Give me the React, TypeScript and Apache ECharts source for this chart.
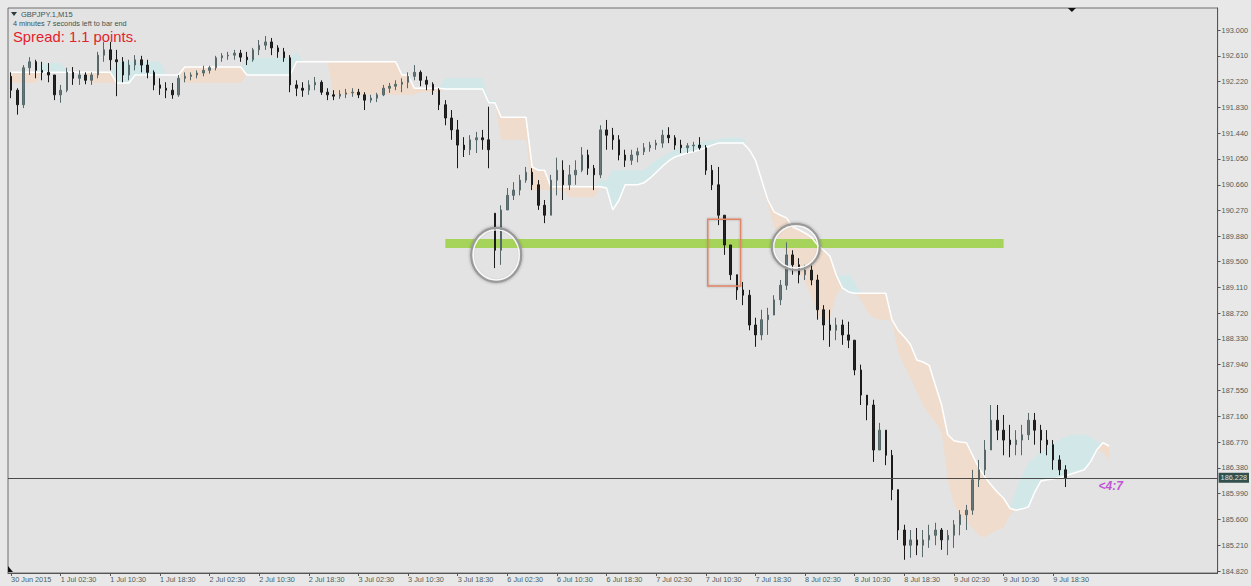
import React, { useEffect, useRef } from 'react';
import * as echarts from 'echarts';

// ---------- data ----------
const X_LABELS = ['30 Jun 2015', '1 Jul 02:30', '1 Jul 10:30', '1 Jul 18:30', '2 Jul 02:30', '2 Jul 10:30', '2 Jul 18:30', '3 Jul 02:30', '3 Jul 10:30', '3 Jul 18:30', '6 Jul 02:30', '6 Jul 10:30', '6 Jul 18:30', '7 Jul 02:30', '7 Jul 10:30', '7 Jul 18:30', '8 Jul 02:30', '8 Jul 10:30', '8 Jul 18:30', '9 Jul 02:30', '9 Jul 10:30', '9 Jul 18:30'];
const BARS_PER_LABEL = 8;
const SLOT_COUNT = 195;

const Y_TICKS = [184.82, 185.21, 185.6, 185.99, 186.38, 186.77, 187.16, 187.55, 187.94, 188.33, 188.72, 189.11, 189.5, 189.88, 190.27, 190.66, 191.05, 191.44, 191.83, 192.22, 192.61, 193.0];
const PRICE_MIN = 184.79;
const PRICE_MAX = 193.333;

const FIRST_OPEN = 192.3;
const HIGH = [
  192.36, 192.12, 192.47, 192.59, 192.55, 192.52, 192.50, 192.32, 192.17, 192.43,
  192.44, 192.39, 192.36, 192.36, 192.67, 192.82, 192.82, 192.70, 192.59, 192.55,
  192.62, 192.61, 192.55, 192.39, 192.27, 192.21, 192.20, 192.32, 192.36, 192.36,
  192.39, 192.46, 192.46, 192.61, 192.65, 192.67, 192.70, 192.70, 192.67, 192.73,
  192.85, 192.91, 192.88, 192.77, 192.73, 192.62, 192.24, 192.21, 192.24, 192.29,
  192.24, 192.12, 192.09, 192.09, 192.11, 192.12, 192.11, 192.06, 192.02, 192.05,
  192.17, 192.20, 192.24, 192.27, 192.36, 192.47, 192.39, 192.30, 192.21, 192.12,
  191.94, 191.79, 191.64, 191.38, 191.41, 191.46, 191.49, 191.84, 190.23, 190.35,
  190.61, 190.70, 190.81, 190.93, 190.91, 190.73, 190.43, 190.81, 191.07, 191.03,
  190.96, 191.03, 191.23, 191.19, 190.96, 191.56, 191.64, 191.52, 191.41, 191.19,
  191.19, 191.22, 191.29, 191.31, 191.34, 191.49, 191.53, 191.41, 191.34, 191.29,
  191.31, 191.38, 191.26, 190.96, 190.93, 190.20, 189.75, 189.30, 189.19, 189.07,
  188.65, 188.77, 188.80, 188.99, 189.22, 189.79, 189.67, 189.55, 189.45, 189.48,
  189.30, 188.84, 188.77, 188.65, 188.62, 188.59, 188.31, 187.94, 187.48, 187.41,
  187.06, 186.95, 186.65, 186.05, 185.52, 185.44, 185.47, 185.44, 185.52, 185.55,
  185.47, 185.44, 185.59, 185.74, 185.82, 186.35, 186.50, 186.80, 187.33, 187.33,
  187.18, 187.03, 186.95, 187.03, 187.21, 187.21, 187.03, 186.95, 186.80, 186.57,
  186.42,
];
const LOW = [
  191.97, 191.72, 191.82, 192.32, 192.27, 192.24, 192.21, 191.94, 191.90, 192.06,
  192.17, 192.17, 192.18, 192.17, 192.27, 192.52, 192.39, 192.00, 192.21, 192.24,
  192.39, 192.36, 192.27, 192.09, 192.02, 191.97, 191.96, 191.99, 192.21, 192.24,
  192.27, 192.30, 192.34, 192.39, 192.52, 192.55, 192.55, 192.52, 192.47, 192.52,
  192.62, 192.70, 192.62, 192.58, 192.52, 192.06, 192.00, 191.99, 192.02, 192.09,
  192.02, 191.94, 191.94, 191.96, 191.97, 191.99, 191.97, 191.79, 191.90, 191.91,
  192.00, 192.05, 192.09, 192.06, 192.12, 192.24, 192.15, 192.09, 192.02, 191.79,
  191.56, 191.34, 190.91, 191.08, 191.11, 191.14, 191.19, 190.91, 189.40, 189.45,
  190.28, 190.43, 190.50, 190.69, 190.58, 190.28, 190.08, 190.20, 190.50, 190.43,
  190.58, 190.66, 190.85, 190.81, 190.58, 190.76, 191.19, 191.19, 191.03, 190.93,
  190.96, 191.00, 191.11, 191.16, 191.19, 191.22, 191.29, 191.19, 191.14, 191.14,
  191.16, 191.19, 190.81, 190.58, 190.05, 189.60, 189.22, 188.92, 188.84, 188.46,
  188.21, 188.31, 188.39, 188.69, 188.84, 189.07, 189.30, 189.17, 189.22, 189.14,
  188.62, 188.31, 188.21, 188.31, 188.24, 188.19, 187.78, 187.33, 187.10, 186.47,
  186.65, 186.42, 185.89, 185.29, 184.99, 185.02, 185.06, 185.03, 185.17, 185.21,
  185.14, 185.06, 185.17, 185.36, 185.44, 185.67, 186.09, 186.27, 186.65, 186.80,
  186.57, 186.54, 186.57, 186.57, 186.80, 186.73, 186.60, 186.57, 186.35, 186.27,
  186.09,
];
const CLOSE = [
  192.09, 191.87, 192.43, 192.52, 192.39, 192.36, 192.32, 192.02, 192.09, 192.36,
  192.27, 192.32, 192.24, 192.32, 192.62, 192.70, 192.55, 192.52, 192.32, 192.47,
  192.55, 192.47, 192.36, 192.17, 192.12, 192.09, 192.02, 192.27, 192.30, 192.32,
  192.35, 192.39, 192.43, 192.58, 192.61, 192.62, 192.65, 192.59, 192.55, 192.70,
  192.77, 192.82, 192.73, 192.67, 192.58, 192.17, 192.12, 192.09, 192.17, 192.21,
  192.06, 192.02, 192.00, 192.03, 192.05, 192.06, 192.02, 191.94, 191.97, 192.02,
  192.12, 192.15, 192.18, 192.21, 192.30, 192.36, 192.24, 192.18, 192.09, 191.87,
  191.67, 191.49, 191.26, 191.19, 191.34, 191.37, 191.34, 191.19, 189.67, 190.28,
  190.50, 190.58, 190.73, 190.85, 190.66, 190.35, 190.20, 190.73, 190.88, 190.66,
  190.81, 190.88, 191.11, 190.91, 190.81, 191.49, 191.41, 191.34, 191.11, 191.03,
  191.11, 191.16, 191.22, 191.26, 191.29, 191.41, 191.37, 191.26, 191.22, 191.25,
  191.26, 191.22, 190.88, 190.66, 190.20, 189.75, 189.30, 189.07, 188.99, 188.54,
  188.39, 188.62, 188.69, 188.92, 189.14, 189.60, 189.45, 189.30, 189.37, 189.22,
  188.77, 188.54, 188.46, 188.54, 188.39, 188.31, 187.86, 187.48, 187.33, 186.65,
  186.95, 186.57, 186.05, 185.44, 185.21, 185.29, 185.21, 185.29, 185.36, 185.44,
  185.29, 185.36, 185.52, 185.67, 185.74, 186.20, 186.35, 186.65, 187.10, 186.95,
  186.80, 186.73, 186.80, 186.88, 187.10, 186.95, 186.80, 186.73, 186.50, 186.35,
  186.23,
];

// Ichimoku senkou spans (already shifted forward)
const SPAN_A = [
  192.20, 192.20, 192.20, 192.20, 192.20, 192.50, 192.50, 192.50, 192.50, 192.36,
  192.36, 192.36, 192.36, 192.20, 192.20, 192.20, 192.20, 192.52, 192.52, 192.52,
  192.52, 192.52, 192.52, 192.52, 192.52, 192.32, 192.32, 192.32, 192.20, 192.20,
  192.20, 192.20, 192.20, 192.20, 192.20, 192.20, 192.20, 192.20, 192.58, 192.58,
  192.58, 192.58, 192.58, 192.58, 192.58, 192.58, 192.67, 192.52, 192.52, 192.52,
  192.52, 192.52, 192.02, 192.02, 192.02, 192.02, 192.02, 192.02, 192.02, 192.02,
  192.02, 192.02, 192.02, 192.02, 192.02, 192.02, 192.06, 192.06, 192.06, 192.06,
  192.27, 192.27, 192.27, 192.27, 192.27, 192.27, 192.27, 191.94, 191.94, 191.34,
  191.34, 191.34, 191.34, 191.34, 190.58, 190.58, 190.58, 190.58, 190.58, 190.58,
  190.47, 190.47, 190.47, 190.47, 190.47, 190.73, 190.73, 190.88, 190.88, 190.88,
  190.88, 190.88, 190.88, 190.96, 191.03, 191.08, 191.14, 191.19, 191.22, 191.25,
  191.26, 191.29, 191.32, 191.34, 191.34, 191.37, 191.37, 191.37, 191.37, 191.19,
  191.00, 190.73, 190.35, 190.04, 189.78, 189.60, 189.45, 189.33, 189.19, 188.99,
  188.69, 188.59, 188.65, 188.99, 189.28, 189.31, 189.19, 188.92, 188.74, 188.65,
  188.62, 188.62, 188.59, 188.12, 187.92, 187.74, 187.53, 187.33, 187.19, 187.07,
  186.92, 186.20, 185.82, 185.67, 185.56, 185.47, 185.36, 185.33, 185.39, 185.44,
  185.47, 185.67, 186.05, 186.27, 186.45, 186.53, 186.62, 186.68, 186.76, 186.80,
  186.85, 186.88, 186.88, 186.88, 186.85, 186.77, 186.62, 186.50,
];
const SPAN_B = [
  192.36, 192.36, 192.36, 192.36, 192.36, 192.36, 192.36, 192.36, 192.36, 192.36,
  192.36, 192.36, 192.36, 192.36, 192.36, 192.36, 192.36, 192.20, 192.20, 192.20,
  192.32, 192.32, 192.32, 192.32, 192.32, 192.32, 192.32, 192.32, 192.44, 192.44,
  192.44, 192.44, 192.44, 192.44, 192.44, 192.44, 192.44, 192.44, 192.32, 192.32,
  192.32, 192.32, 192.32, 192.32, 192.32, 192.32, 192.52, 192.52, 192.52, 192.52,
  192.52, 192.52, 192.52, 192.52, 192.52, 192.52, 192.52, 192.52, 192.52, 192.52,
  192.52, 192.52, 192.52, 192.32, 192.32, 192.12, 192.12, 192.12, 192.12, 192.12,
  192.11, 192.11, 192.11, 192.11, 192.11, 192.11, 192.11, 191.90, 191.90, 191.68,
  191.68, 191.68, 191.68, 191.68, 190.93, 190.88, 190.88, 190.63, 190.63, 190.63,
  190.63, 190.63, 190.63, 190.63, 190.63, 190.63, 190.61, 190.28, 190.43, 190.66,
  190.66, 190.66, 190.69, 190.76, 190.85, 190.94, 191.02, 191.08, 191.11, 191.14,
  191.16, 191.19, 191.22, 191.26, 191.29, 191.29, 191.29, 191.29, 191.29, 191.19,
  191.03, 190.73, 190.43, 190.25, 190.20, 190.16, 190.02, 189.98, 189.93, 189.87,
  189.75, 189.67, 189.58, 189.30, 189.10, 189.04, 189.02, 189.02, 189.02, 189.02,
  189.02, 189.02, 188.62, 188.46, 188.36, 188.24, 188.01, 187.98, 187.93, 187.63,
  187.33, 186.88, 186.79, 186.77, 186.76, 186.57, 186.38, 186.24, 186.12, 186.01,
  185.92, 185.77, 185.74, 185.76, 185.79, 186.01, 186.18, 186.20, 186.21, 186.23,
  186.26, 186.29, 186.32, 186.35, 186.47, 186.65, 186.76, 186.71,
];

const CURRENT_PRICE = 186.228;
const GREEN_LEVEL = 189.78;
const GREEN_FROM = 70;
const GREEN_TO = 160;
const CIRCLE_MARKS = [
  { idx: 78.2, price: 189.6 },
  { idx: 126.5, price: 189.72 },
];
const BOX_MARK = { idx0: 112.3, idx1: 117.6, priceTop: 190.14, priceBottom: 189.13 };
const TIMER_MARK = { idx: 175.3, price: 186.11, text: '<4:7' };
const SHIFT_MARK_IDX = 171;

const SYMBOL_TEXT = 'GBPJPY.1,M15';
const TIMER_TEXT = '4 minutes 7 seconds left to bar end';
const SPREAD_TEXT = 'Spread: 1.1 points.';

// ---------- styles ----------
const FONT = '"Liberation Sans", Arial, sans-serif';
const AXIS_TEXT = '#4a5e5e';
const PEACH = '#efdccd';
const CYAN = '#d1e7e8';
const GREEN = '#a6d45a';

export default function App() {
  const ref = useRef<HTMLDivElement>(null);

  useEffect(() => {
    document.body.style.margin = '0';
    const el = ref.current!;
    const chart = echarts.init(el, null, { renderer: 'svg' });

    const cats = Array.from({ length: SLOT_COUNT }, (_, i) => String(i));
    const candleData = CLOSE.map((c, i) => {
      const prev = i === 0 ? FIRST_OPEN : CLOSE[i - 1];
      const o = Math.min(HIGH[i], Math.max(LOW[i], prev));
      return [o, c, LOW[i], HIGH[i]];
    });
    const cloudLow = SPAN_A.map((a, i) => Math.min(a, SPAN_B[i]));
    const bear = SPAN_A.map((a, i) => Math.max(SPAN_B[i] - a, 0));
    const bull = SPAN_A.map((a, i) => Math.max(a - SPAN_B[i], 0));
    const labelTick = (i: number) => i % BARS_PER_LABEL === 0 && i / BARS_PER_LABEL < X_LABELS.length;

    chart.setOption({
      animation: false,
      backgroundColor: '#e8e8e8',
      grid: {
        left: 8, top: 8, right: 31, bottom: 13,
        show: true, backgroundColor: '#e3e3e3', borderColor: '#6f6f6f', borderWidth: 1,
      },
      xAxis: {
        type: 'category',
        data: cats,
        boundaryGap: true,
        axisLine: { onZero: false, lineStyle: { color: '#555555' } },
        axisTick: { show: true, alignWithLabel: true, interval: labelTick, length: 3, lineStyle: { color: '#555555' } },
        axisLabel: {
          interval: labelTick,
          formatter: (_v: string, i: number) => X_LABELS[i / BARS_PER_LABEL] ?? '',
          align: 'left',
          fontSize: 7.3,
          fontFamily: FONT,
          color: AXIS_TEXT,
          margin: 3,
        },
        splitLine: { show: false },
      },
      yAxis: {
        type: 'value',
        position: 'right',
        min: PRICE_MIN,
        max: PRICE_MAX,
        scale: true,
        splitLine: { show: false },
        axisLine: { show: true, lineStyle: { color: '#555555' } },
        axisTick: { show: true, length: 3, lineStyle: { color: '#555555' }, customValues: Y_TICKS },
        axisLabel: {
          customValues: Y_TICKS,
          formatter: (v: number) => v.toFixed(3),
          fontSize: 7.3,
          fontFamily: FONT,
          color: AXIS_TEXT,
          margin: 4,
        },
      },
      series: [
        {
          type: 'line', data: cloudLow, stack: 'cloud', stackStrategy: 'all', symbol: 'none',
          lineStyle: { width: 0, opacity: 0 }, z: 1, silent: true,
        },
        {
          type: 'line', data: bear, stack: 'cloud', stackStrategy: 'all', symbol: 'none',
          lineStyle: { width: 0, opacity: 0 }, areaStyle: { color: PEACH, opacity: 1 }, z: 1, silent: true,
        },
        {
          type: 'line', data: bull, stack: 'cloud', stackStrategy: 'all', symbol: 'none',
          lineStyle: { width: 0, opacity: 0 }, areaStyle: { color: CYAN, opacity: 1 }, z: 1, silent: true,
        },
        {
          type: 'line', data: SPAN_B, symbol: 'none', z: 2, silent: true,
          lineStyle: { color: '#ffffff', width: 1.5 },
          markLine: {
            silent: true, z: 2, symbol: ['none', 'none'], label: { show: false },
            lineStyle: { color: GREEN, width: 9, type: 'solid', opacity: 1 },
            emphasis: { disabled: true },
            data: [[{ coord: [GREEN_FROM, GREEN_LEVEL] }, { coord: [GREEN_TO, GREEN_LEVEL] }]],
          },
        },
        {
          type: 'candlestick', data: candleData, barWidth: 2, z: 3, silent: true,
          itemStyle: {
            color: '#66777a', color0: '#252525', borderColor: '#56686a', borderColor0: '#1a1a1a', borderWidth: 1,
          },
          markLine: {
            silent: true, z: 4, symbol: ['none', 'none'],
            lineStyle: { color: '#4a4a4a', width: 1, type: 'solid' },
            emphasis: { disabled: true },
            label: {
              show: true, position: 'end', formatter: CURRENT_PRICE.toFixed(3),
              backgroundColor: '#33504e', color: '#dbe6e4', fontSize: 7.3, fontFamily: FONT,
              padding: [2, 2, 1, 2], distance: 1,
            },
            data: [{ yAxis: CURRENT_PRICE }],
          },
        },
      ],
    });

    const finder = { xAxisIndex: 0, yAxisIndex: 0 };
    const a0 = chart.convertToPixel(finder, [0, PRICE_MIN]) as number[];
    const a1 = chart.convertToPixel(finder, [1, PRICE_MIN]) as number[];
    const step = a1[0] - a0[0];
    const toX = (i: number) => a0[0] + step * i;
    const toY = (p: number) => (chart.convertToPixel(finder, [0, p]) as number[])[1];

    const graphics: any[] = [];
    const radii = [[25, 27], [24, 23]];
    CIRCLE_MARKS.forEach((c, k) => {
      const cx = toX(c.idx);
      const cy = toY(c.price);
      const [rx, ry] = radii[k];
      graphics.push({
        type: 'ellipse', z: 20, silent: true,
        shape: { cx, cy, rx, ry },
        style: { fill: 'none', stroke: '#9a9a9a', lineWidth: 2.2, shadowBlur: 3, shadowColor: 'rgba(0,0,0,0.35)' },
      });
      graphics.push({
        type: 'ellipse', z: 21, silent: true,
        shape: { cx, cy, rx: rx - 2, ry: ry - 2 },
        style: { fill: 'none', stroke: '#fafafa', lineWidth: 1.4 },
      });
    });
    const bx0 = toX(BOX_MARK.idx0);
    const bx1 = toX(BOX_MARK.idx1);
    const by0 = toY(BOX_MARK.priceTop);
    const by1 = toY(BOX_MARK.priceBottom);
    graphics.push({
      type: 'rect', z: 20, silent: true,
      shape: { x: bx0, y: by0, width: bx1 - bx0, height: by1 - by0 },
      style: { fill: 'none', stroke: '#e08565', lineWidth: 1.5, shadowBlur: 2, shadowColor: 'rgba(0,0,0,0.25)' },
    });
    graphics.push({
      type: 'text', z: 20, silent: true,
      x: toX(TIMER_MARK.idx), y: toY(TIMER_MARK.price),
      style: {
        text: TIMER_MARK.text, fill: '#c255d6', fontSize: 12, fontWeight: 'bold', fontStyle: 'italic',
        fontFamily: FONT, align: 'left', verticalAlign: 'middle', textAlign: 'left', textVerticalAlign: 'middle',
      },
    });
    const sx = toX(SHIFT_MARK_IDX);
    graphics.push({
      type: 'polygon', z: 20, silent: true,
      shape: { points: [[sx - 4, 8], [sx + 4, 8], [sx, 12]] },
      style: { fill: '#111111' },
    });
    graphics.push({
      type: 'polygon', z: 20, silent: true,
      shape: { points: [[8, 566], [8, 572], [13, 572]] },
      style: { fill: '#111111' },
    });
    // header texts
    graphics.push({
      type: 'polygon', z: 20, silent: true,
      shape: { points: [[11, 12], [17, 12], [14, 16]] },
      style: { fill: '#2c3c3c' },
    });
    const headerText = (text: string, x: number, y: number, size: number, fill: string) => ({
      type: 'text', z: 20, silent: true, x, y,
      style: {
        text, fill, fontSize: size, fontFamily: FONT,
        align: 'left', verticalAlign: 'middle', textAlign: 'left', textVerticalAlign: 'middle',
      },
    });
    graphics.push(headerText(SYMBOL_TEXT, 21, 14, 7.5, '#3c5454'));
    graphics.push(headerText(TIMER_TEXT, 13, 23, 7.3, '#3c5454'));
    graphics.push(headerText(SPREAD_TEXT, 13, 37, 14.8, '#e3222c'));

    chart.setOption({ graphic: graphics });

    return () => {
      chart.dispose();
    };
  }, []);

  return <div ref={ref} style={{ width: 1251, height: 586, background: '#e8e8e8' }} />;
}
